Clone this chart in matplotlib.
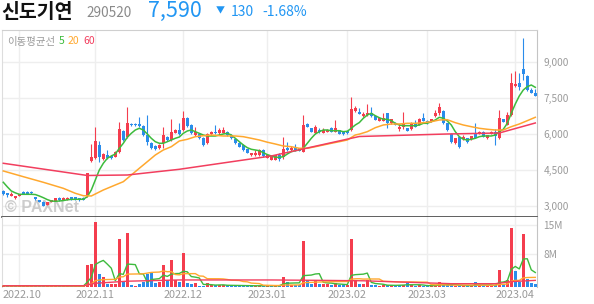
import matplotlib
matplotlib.use('Agg')
import matplotlib.pyplot as plt
import numpy as np
import pandas as pd
from matplotlib.transforms import ScaledTranslation

plt.rcParams['font.family'] = ['Noto Sans CJK KR', 'DejaVu Sans']

# ---------------- data ----------------
opens = [3610, 3530, 3420, 3330, 3420, 3600, 3600, 3600, 3360, 3250,
         3180, 3050, 3180, 3220, 3350, 3250, 3250, 3360, 3360, 3320,
         3340, 3400, 4860, 5000, 5540, 4950, 5120, 5080, 5040, 5250,
         6120, 5870, 6420, 6420, 6400, 6330, 5950, 5610, 5500, 5400,
         5610, 5860, 5750, 6050, 6170, 6160, 6680, 6370, 5950, 6000,
         5830, 5620, 6000, 6090, 6050, 6050, 6090, 5950, 5790, 5640,
         5540, 5360, 5110, 5110, 5110, 5330, 5000, 4920, 4920, 5120,
         5030, 5430, 5330, 5430, 5400, 5260, 6400, 6230, 6050, 6160,
         6050, 6080, 6230, 6090, 6160, 6080, 6120, 6160, 6960, 6920,
         6740, 6780, 6880, 6740, 6550, 6550, 6860, 6440, 6470, 6190,
         6300, 6230, 6190, 6440, 6370, 6650, 6550, 6500, 6740, 6860,
         6960, 6440, 6000, 5640, 5880, 5780, 5820, 5780, 6000, 6000,
         6090, 5830, 6000, 6090, 5820, 6610, 6370, 6780, 7990, 8130,
         8680, 8410, 7830, 7690]
highs = [3650, 3560, 3580, 3430, 3510, 3620, 3630, 3620, 3380, 3270,
         3200, 3180, 3270, 3350, 3370, 3370, 3380, 3380, 3380, 3340,
         3360, 4380, 5560, 6300, 5700, 5200, 5320, 5120, 5280, 6510,
         6150, 7130, 6450, 6460, 6700, 6380, 6780, 5650, 5540, 5560,
         6300, 5900, 6610, 6200, 6450, 6960, 6720, 6400, 6300, 6030,
         5860, 6050, 6110, 6370, 6250, 6300, 6120, 5980, 5820, 5670,
         5560, 5380, 5210, 5330, 5360, 5360, 5140, 5110, 5140, 5200,
         5860, 5650, 5500, 5570, 5420, 6780, 6440, 6260, 6380, 6230,
         6240, 6200, 6300, 6580, 6180, 6100, 6140, 7550, 7170, 7060,
         6920, 7240, 7100, 6770, 6670, 6880, 6880, 6630, 6490, 6410,
         6920, 6250, 6480, 6580, 6680, 6860, 6570, 6630, 7000, 7270,
         6980, 6460, 6020, 5850, 5900, 5950, 5840, 5930, 6470, 6110,
         6110, 5970, 6100, 6200, 7000, 6630, 6900, 8520, 8620, 8520,
         9970, 8450, 7920, 7850]
lows = [3460, 3380, 3400, 3310, 3400, 3500, 3500, 3510, 3260, 3150,
        3000, 3030, 3170, 3200, 3230, 3240, 3240, 3270, 3270, 3230,
        3240, 3380, 4830, 4950, 4850, 4900, 4960, 4970, 5020, 5200,
        5700, 5850, 6340, 6340, 6300, 5900, 5540, 5380, 5330, 5380,
        5400, 5700, 5720, 6020, 5950, 6130, 6300, 6000, 5920, 5800,
        5500, 5580, 5970, 6000, 5950, 6030, 5920, 5800, 5580, 5440,
        5300, 5200, 5090, 5090, 5090, 5040, 4980, 4900, 4900, 4880,
        4960, 5300, 5300, 5310, 5280, 5240, 6280, 6060, 5990, 6040,
        6030, 6060, 6060, 6070, 5980, 5950, 6000, 6140, 6930, 6810,
        6720, 6740, 6700, 6560, 6530, 6530, 6250, 6420, 6350, 6100,
        6190, 6110, 6150, 6280, 6350, 6530, 6420, 6480, 6720, 6790,
        6420, 6130, 5620, 5560, 5420, 5760, 5630, 5760, 5810, 5980,
        5860, 5800, 5980, 5540, 5800, 6480, 6350, 6750, 7960, 7820,
        8240, 7800, 7700, 7570]
closes = [3500, 3460, 3500, 3410, 3490, 3520, 3520, 3530, 3280, 3160,
          3020, 3160, 3250, 3330, 3250, 3350, 3350, 3290, 3290, 3250,
          3260, 4360, 5040, 5700, 5040, 5160, 5000, 5000, 5250, 6200,
          5740, 6450, 6370, 6370, 6330, 5950, 5680, 5420, 5370, 5520,
          5950, 5750, 6090, 6160, 5980, 6660, 6330, 6030, 6090, 5830,
          5540, 6000, 6090, 6030, 6160, 6160, 5950, 5830, 5610, 5470,
          5330, 5220, 5190, 5190, 5330, 5070, 5120, 5090, 5120, 4960,
          5360, 5330, 5430, 5330, 5300, 6370, 6300, 6090, 6300, 6080,
          6150, 6180, 6090, 6230, 6000, 5980, 6020, 7020, 7090, 6830,
          6830, 6880, 6740, 6580, 6650, 6650, 6440, 6610, 6370, 6300,
          6410, 6130, 6410, 6300, 6610, 6550, 6440, 6610, 6860, 7130,
          6440, 6160, 5650, 5830, 5440, 5880, 5670, 5910, 5830, 6090,
          5880, 5950, 6080, 5910, 6650, 6500, 6780, 8100, 8060, 7940,
          8490, 7820, 7720, 7590]
volumes_m = [0.3, 0.3, 0.2, 0.3, 0.2, 0.3, 0.2, 0.2, 0.3, 0.3,
             0.4, 0.3, 0.2, 0.2, 0.2, 0.2, 0.2, 0.2, 0.2, 0.2,
             0.2, 5.2, 5.6, 15.8, 3.2, 2.3, 0.7, 0.7, 0.7, 11.7,
             1.5, 13.0, 0.5, 0.3, 0.7, 1.2, 3.1, 3.7, 0.9, 1.2,
             5.4, 1.6, 6.4, 1.6, 1.3, 8.1, 0.9, 0.7, 0.9, 0.3,
             0.3, 0.9, 0.4, 0.4, 0.5, 0.4, 0.4, 0.3, 0.3, 0.3,
             0.3, 0.3, 0.3, 0.3, 0.3, 0.3, 0.3, 0.3, 0.3, 0.3,
             2.5, 1.2, 0.5, 0.4, 0.4, 11.2, 1.6, 0.8, 1.7, 0.8,
             0.8, 0.8, 0.6, 0.9, 0.5, 0.5, 0.4, 11.7, 1.8, 0.8,
             0.8, 1.7, 0.5, 0.4, 0.3, 0.4, 0.6, 0.4, 0.3, 0.4,
             0.6, 1.0, 0.4, 0.3, 0.4, 0.3, 0.3, 0.3, 0.4, 1.1,
             0.6, 0.4, 0.5, 0.3, 0.4, 0.3, 0.3, 0.3, 1.1, 0.4,
             0.3, 0.3, 0.3, 0.5, 4.2, 0.7, 1.7, 14.3, 3.9, 1.2,
             12.7, 2.0, 0.9, 0.7]

ma5 = [3989, 3800, 3628, 3550, 3490, 3490, 3490, 3490, 3480, 3420,
       3350, 3270, 3212, 3200, 3212, 3230, 3260, 3280, 3283, 3283,
       3283, 3391, 3669, 4085, 4500, 4778, 4986, 5082, 5165, 5402,
       5610, 5859, 6025, 6162, 6233, 6162, 5996, 5817, 5676, 5610,
       5610, 5676, 5747, 5817, 5870, 6025, 6121, 6162, 6092, 6025,
       5954, 5913, 5913, 5913, 5954, 5996, 6025, 5954, 5817, 5676,
       5539, 5427, 5360, 5331, 5302, 5219, 5140, 5082, 5027, 5027,
       5053, 5165, 5260, 5302, 5331, 5402, 5610, 5817, 5996, 6092,
       6162, 6162, 6133, 6133, 6133, 6092, 6110, 6233, 6370, 6470,
       6648, 6785, 6856, 6756, 6673, 6607, 6607, 6549, 6440, 6370,
       6341, 6341, 6341, 6341, 6370, 6440, 6440, 6507, 6578, 6690,
       6648, 6540, 6370, 6092, 5884, 5776, 5747, 5776, 5817, 5884,
       5913, 5913, 5913, 5954, 6092, 6192, 6440, 6856, 7243, 7575,
       7824, 7963, 8032, 7936]
ma20_idx = [0, 5, 10, 15, 18, 20, 22, 25, 28, 30, 32, 34, 36, 38, 40, 42, 44,
            46, 48, 50, 52, 55, 58, 60, 62, 64, 66, 68, 70, 72, 74, 76, 78,
            80, 82, 84, 86, 88, 89, 91, 93, 95, 97, 99, 101, 103, 105, 107,
            109, 111, 113, 115, 117, 119, 121, 123, 125, 127, 129, 131, 133]
ma20_val = [4459, 4222, 3989, 3739, 3532, 3432, 3420, 3669, 3877, 4014, 4292,
            4571, 4845, 5123, 5331, 5468, 5705, 5776, 5884, 5925, 5954, 5913,
            5913, 5884, 5817, 5747, 5655, 5580, 5497, 5468, 5402, 5402, 5468,
            5539, 5610, 5676, 5747, 5954, 5990, 6092, 6258, 6370, 6411, 6411,
            6440, 6440, 6466, 6507, 6578, 6590, 6466, 6370, 6300, 6233, 6192,
            6162, 6162, 6300, 6411, 6549, 6690]
ma60_idx = [0, 21, 31, 44, 67, 89, 111, 124, 133]
ma60_val = [4779, 4272, 4292, 4529, 5082, 5892, 5996, 6038, 6453]
vma60_idx = [0, 20, 23, 31, 44, 67, 80, 90, 112, 123, 127, 133]
vma60_val = [0.3, 0.3, 0.9, 1.4, 1.7, 1.7, 1.6, 1.5, 0.8, 0.8, 1.3, 1.6]

month_idx = [4, 23, 45, 66, 86, 106, 128]
month_labels = ['2022.10', '2022.11', '2022.12', '2023.01', '2023.02', '2023.03', '2023.04']
price_ticks = [3000, 4500, 6000, 7500, 9000]
vol_ticks = [8, 15]
vol_tick_labels = ['8M', '15M']

# ---------------- style ----------------
UP = '#F43D4E'
DOWN = '#2A8CEB'
C_MA5 = '#3DBB3D'
C_MA20 = '#FFA82E'
C_MA60 = '#F23E5E'
GRID = '#EEEEEE'
TXT = '#9A9A9A'

W, H = 594, 304
fig = plt.figure(figsize=(W / 100, H / 100), dpi=100)


def px_axes(l, t, r, b):
    return fig.add_axes([l / W, 1 - b / H, (r - l) / W, (b - t) / H])


ax = px_axes(2, 30, 537, 217)
axv = px_axes(2, 217, 537, 287)

n = len(closes)
x = np.arange(n)
o = np.array(opens, float)
c = np.array(closes, float)
hi = np.array(highs, float)
lo = np.array(lows, float)
up = c >= o
col = np.where(up, UP, DOWN)

# candles
ax.vlines(x, lo, hi, colors=col, linewidth=0.8, zorder=3)
body_bottom = np.minimum(o, c)
body_h = np.maximum(np.abs(c - o), 45)
ax.bar(x, body_h, bottom=body_bottom, width=0.72, color=col, linewidth=0, zorder=4)

# moving averages
ax.plot(x, ma5, color=C_MA5, lw=1.1, zorder=5)
ax.plot(ma20_idx, ma20_val, color=C_MA20, lw=1.1, zorder=5)
ax.plot(ma60_idx, ma60_val, color=C_MA60, lw=1.1, zorder=5)

ax.set_xlim(-0.33, 133.43)
ax.set_ylim(2547, 10317)
ax.set_yticks(price_ticks)
ax.set_yticklabels([f'{t:,}' for t in price_ticks])
ax.yaxis.tick_right()
ax.tick_params(axis='y', length=0, pad=4.5, labelsize=7.3, labelcolor=TXT)
ax.set_xticks(month_idx)
ax.tick_params(axis='x', length=0, labelbottom=False)
ax.grid(True, color=GRID, lw=1, zorder=0)
ax.set_axisbelow(True)
for s in ['left']:
    ax.spines[s].set_color('#DDDDDD')
ax.spines['top'].set_color('#CFCFCF')
ax.spines['right'].set_color('#C4C4C4')
ax.spines['bottom'].set_color('#444444')
ax.spines['bottom'].set_linewidth(1.2)

# watermark
ax.text(3 / 535, 5 / 187, '© PAXNet', transform=ax.transAxes, fontsize=11.5,
        fontweight='bold', family=['Liberation Sans', 'DejaVu Sans'],
        color='#BDBDBD', alpha=0.75, zorder=2, va='baseline')

# volume
vol = np.array(volumes_m, float)
prev = np.concatenate([[c[0]], c[:-1]])
vcol = np.where(c >= prev, UP, DOWN)
axv.bar(x, vol, width=0.72, color=vcol, linewidth=0, zorder=3)
vs = pd.Series(vol)
axv.plot(x, vs.rolling(5, min_periods=1).mean(), color=C_MA5, lw=1.0, zorder=5)
axv.plot(x, vs.rolling(20, min_periods=1).mean(), color=C_MA20, lw=1.0, zorder=5)
axv.plot(vma60_idx, vma60_val, color=C_MA60, lw=1.0, zorder=5)

axv.set_xlim(-0.33, 133.43)
axv.set_ylim(0, 16.9)
axv.set_yticks(vol_ticks)
axv.set_yticklabels(vol_tick_labels)
axv.yaxis.tick_right()
axv.tick_params(axis='y', length=0, pad=4.5, labelsize=7.3, labelcolor=TXT)
axv.set_xticks(month_idx)
axv.set_xticklabels(month_labels)
axv.tick_params(axis='x', length=0, pad=2, labelsize=7.8, labelcolor=TXT)
first = axv.get_xticklabels()[0]
first.set_transform(first.get_transform() + ScaledTranslation(3 / 100, 0, fig.dpi_scale_trans))
axv.grid(True, color=GRID, lw=1, zorder=0)
axv.set_axisbelow(True)
axv.spines['top'].set_visible(False)
axv.spines['bottom'].set_visible(False)
axv.spines['left'].set_color('#DDDDDD')
axv.spines['right'].set_color('#C4C4C4')

# header
def ftext(px, py, s, **kw):
    fig.text(px / W, 1 - py / H, s, va='baseline', **kw)

ftext(1, 18, '신도기연', fontsize=14, fontweight='bold', color='#111111')
ftext(86, 16.7, '290520', fontsize=9.8, color='#8A8A8A')
ftext(148, 16.7, '7,590', fontsize=15.5, color='#2196F3')
ftext(215.5, 13.5, '▼', fontsize=6.5, color='#2196F3')
ftext(231, 16.5, '130', fontsize=10, color='#2196F3')
ftext(262, 16.5, '-1.68%', fontsize=10, color='#2196F3')

# MA legend
ftext(7, 44.5, '이동평균선', fontsize=7.5, color=TXT)
ftext(59, 44.5, '5', fontsize=7.5, color=C_MA5)
ftext(68, 44.5, '20', fontsize=7.5, color=C_MA20)
ftext(83, 44.5, '60', fontsize=7.5, color=C_MA60)

fig.savefig('out.png', dpi=100)
